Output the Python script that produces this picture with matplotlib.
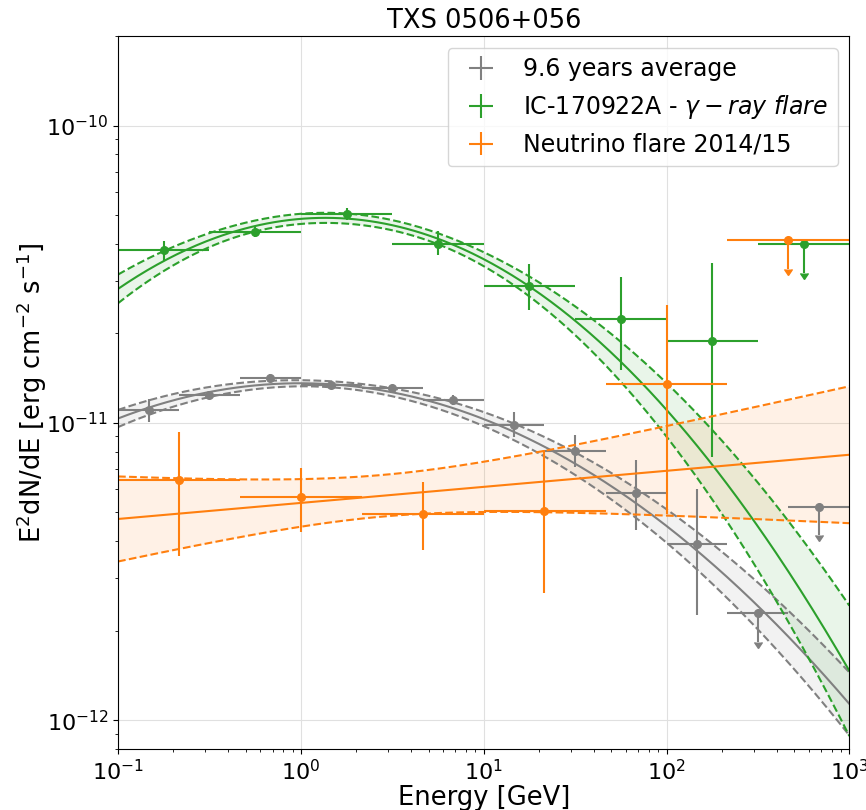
import numpy as np
import matplotlib
matplotlib.use("Agg")
import matplotlib.pyplot as plt

# --- 9.6 years average (grey) ---
avg_e = [0.147, 0.316, 0.681, 1.47, 3.16, 6.81, 14.7, 31.6, 68.1, 147, 316, 681]
avg_e_lo = [0.1, 0.215, 0.464, 1.0, 2.15, 4.64, 10, 21.5, 46.4, 100, 215, 464]
avg_e_hi = [0.215, 0.464, 1.0, 2.15, 4.64, 10, 21.5, 46.4, 100, 215, 464, 1000]
avg_flux = [1.106e-11, 1.242e-11, 1.415e-11, 1.342e-11, 1.31e-11, 1.195e-11,
            9.85e-12, 8.07e-12, 5.82e-12, 3.92e-12, 2.29e-12, 5.23e-12]
avg_err_lo = [9.6e-13, 3.9e-13, 4.4e-13, 3.1e-13, 3.0e-13, 4.7e-13,
              8.6e-13, 9.8e-13, 1.46e-12, 1.67e-12, 0, 0]
avg_err_hi = [9.9e-13, 3.9e-13, 4.4e-13, 3.1e-13, 3.0e-13, 4.7e-13,
              1.01e-12, 1.04e-12, 1.69e-12, 2.08e-12, 0, 0]
avg_ul = [False] * 10 + [True, True]

# --- IC-170922A gamma-ray flare (green) ---
ic_e = [0.178, 0.562, 1.78, 5.62, 17.8, 56.2, 178, 562]
ic_e_lo = [0.1, 0.316, 1.0, 3.16, 10, 31.6, 100, 316]
ic_e_hi = [0.316, 1.0, 3.16, 10, 31.6, 100, 316, 1000]
ic_flux = [3.80e-11, 4.38e-11, 5.06e-11, 4.01e-11, 2.88e-11, 2.23e-11, 1.89e-11, 4.0e-11]
ic_err_lo = [3.1e-12, 1.7e-12, 2.4e-12, 3.5e-12, 4.8e-12, 7.2e-12, 1.12e-11, 0]
ic_err_hi = [3.0e-12, 1.7e-12, 2.4e-12, 4.0e-12, 5.5e-12, 8.6e-12, 1.56e-11, 0]
ic_ul = [False] * 7 + [True]

# --- Neutrino flare 2014/15 (orange) ---
nu_e = [0.215, 1.0, 4.64, 21.5, 100, 464]
nu_e_lo = [0.1, 0.464, 2.15, 10, 46.4, 215]
nu_e_hi = [0.464, 2.15, 10, 46.4, 215, 1000]
nu_flux = [6.43e-12, 5.62e-12, 4.94e-12, 5.05e-12, 1.35e-11, 4.11e-11]
nu_err_lo = [2.86e-12, 1.31e-12, 1.20e-12, 2.38e-12, 8.56e-12, 0]
nu_err_hi = [2.92e-12, 1.45e-12, 1.41e-12, 3.06e-12, 1.15e-11, 0]
nu_ul = [False] * 5 + [True]

# spectral fits: E^2 dN/dE at 1 GeV, index alpha, curvature beta (LogParabola, E0 = 1 GeV)
avg_fit = (1.359e-11, 2.001, 0.0519)
ic_fit = (4.855e-11, 1.95, 0.0806)
nu_fit = (5.38e-12, 1.946, 0.0)
# butterfly half-width in dex: (s0, s1, s2, log10 pivot)
avg_band = (0.010, 0.022, 0.0100, 0.1)
ic_band = (0.017, 0.0, 0.0289, 0.25)
nu_band = (0.070, 0.086, 0.0, 0.45)

UL_FRAC = 0.2


def sed_model(energy, fit):
    norm, alpha, beta = fit
    return norm * energy ** (2 - alpha - beta * np.log(energy))


def band_width(energy, band):
    s0, s1, s2, piv = band
    d = np.log10(energy) - piv
    return np.sqrt(s0 ** 2 + (s1 * d) ** 2 + (s2 * d ** 2) ** 2)


def draw_series(ax, color, label, e, e_lo, e_hi, flux, err_lo, err_hi, ul, fit, band):
    e = np.array(e)
    flux = np.array(flux)
    ul = np.array(ul)
    det = ~ul
    xerr = np.array([e - np.array(e_lo), np.array(e_hi) - e])
    yerr = np.array([err_lo, err_hi])

    # detections
    ax.errorbar(e[det], flux[det], xerr=xerr[:, det], yerr=yerr[:, det], fmt="none",
                ecolor=color, elinewidth=1.5, label=label)
    # upper limits
    ax.errorbar(e[ul], flux[ul], xerr=xerr[:, ul], yerr=UL_FRAC * flux[ul], uplims=True,
                fmt="none", ecolor=color, color=color, elinewidth=1.5, ms=6)
    ax.plot(e, flux, "o", color=color, ms=5.5, lw=0)

    grid = np.logspace(-1, 3, 300)
    mid = sed_model(grid, fit)
    w = 10 ** band_width(grid, band)
    ax.fill_between(grid, mid / w, mid * w, color=color, alpha=0.1, lw=0)
    ax.plot(grid, mid, "-", color=color, lw=1.5)
    ax.plot(grid, mid * w, "--", color=color, lw=1.5)
    ax.plot(grid, mid / w, "--", color=color, lw=1.5)


fig = plt.figure(figsize=(8.66, 8.1), dpi=100)
ax = fig.add_axes([0.1363, 0.0753, 0.8445, 0.8802])

draw_series(ax, "grey", "9.6 years average", avg_e, avg_e_lo, avg_e_hi,
            avg_flux, avg_err_lo, avg_err_hi, avg_ul, avg_fit, avg_band)
draw_series(ax, "tab:green", "IC-170922A - $\\gamma-ray\\ flare$", ic_e, ic_e_lo, ic_e_hi,
            ic_flux, ic_err_lo, ic_err_hi, ic_ul, ic_fit, ic_band)
draw_series(ax, "tab:orange", "Neutrino flare 2014/15", nu_e, nu_e_lo, nu_e_hi,
            nu_flux, nu_err_lo, nu_err_hi, nu_ul, nu_fit, nu_band)

ax.set_xscale("log")
ax.set_yscale("log")
ax.set_xlim(0.1, 1000)
ax.set_ylim(8e-13, 2e-10)
ax.grid(True, which="major", color="0.88", lw=0.8)
ax.set_axisbelow(True)
ax.tick_params(labelsize=16)
ax.set_xlabel("Energy [GeV]", fontsize=18.5, labelpad=1)
ax.set_ylabel("E$^2$dN/dE [erg cm$^{-2}$ s$^{-1}$]", fontsize=18.5, labelpad=-2)
ax.set_title("TXS 0506+056", fontsize=18.5)
ax.legend(loc="upper right", fontsize=17)

fig.savefig("out.png", dpi=100)
